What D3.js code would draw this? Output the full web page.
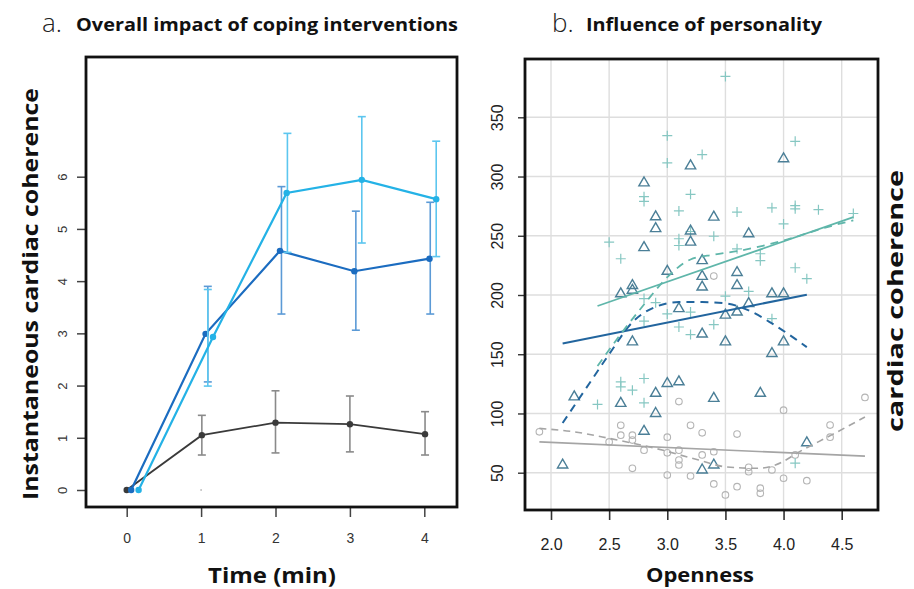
<!DOCTYPE html>
<html>
<head>
<meta charset="utf-8">
<script src="https://cdn.jsdelivr.net/npm/d3@7"></script>
<style>
  body { margin: 0; background: #fff; }
  svg { display: block; }
</style>
</head>
<body>
<svg id="chart" width="914" height="589"></svg>
<script>
// ---- panel a: time course of coherence, 3 groups ----
const timeTicks = [0, 1, 2, 3, 4];
const cohTicks = [0, 1, 2, 3, 4, 5, 6];

const cyanX    = [0.16, 1.16, 2.15, 3.16, 4.16];
const cyanMean = [0, 2.93, 5.69, 5.94, 5.57];
const cyanErrX = [null, 1.09, 2.16, 3.16, 4.16];
const cyanLo   = [null, 1.99, 4.55, 4.73, 4.47];
const cyanHi   = [null, 3.84, 6.83, 7.15, 6.68];

const blueX    = [0.06, 1.06, 2.06, 3.06, 4.07];
const blueMean = [0, 2.99, 4.58, 4.19, 4.43];
const blueErrX = [null, 1.09, 2.08, 3.08, 4.08];
const blueLo   = [null, 2.07, 3.37, 3.06, 3.37];
const blueHi   = [null, 3.90, 5.81, 5.34, 5.51];

const greyX    = [0, 1.01, 2.0, 3.0, 4.01];
const greyMean = [0, 1.05, 1.29, 1.26, 1.07];
const greyErrX = [null, 1.01, 2.0, 3.0, 4.01];
const greyLo   = [null, 0.67, 0.71, 0.73, 0.67];
const greyHi   = [null, 1.43, 1.90, 1.80, 1.50];

// ---- panel b: openness vs coherence ----
const openTicks = [2.0, 2.5, 3.0, 3.5, 4.0, 4.5];
const yTicksB = [50, 100, 150, 200, 250, 300, 350];

const crossX = [3.0, 3.0, 3.3, 3.2, 3.1, 2.8, 2.8, 3.5, 4.1, 3.6, 3.9, 4.1, 4.1, 4.3, 4.6,
  2.5, 2.6, 3.1, 3.1, 3.2, 2.9, 2.8, 3.0, 3.2, 3.1, 3.2, 2.8, 3.4, 4.0, 3.6, 3.8, 3.8,
  4.1, 4.2, 3.7, 3.5, 3.4, 3.9, 2.6, 2.6, 2.7, 2.8, 2.4, 2.8, 4.1];
const crossY = [334.5, 311.5, 318.5, 285, 271, 283, 279, 384.5, 329.7, 270, 273.6, 275.5, 272.7, 272, 268.8,
  244.6, 230.6, 247.5, 241.8, 253.6, 193.5, 197, 184, 185.6, 173, 166.6, 178, 249.6, 260, 239, 234.8, 229,
  223, 213.8, 203, 199, 175, 180, 126.7, 122.5, 119.7, 129.5, 107.6, 109, 58];

const triX = [3.2, 2.8, 2.9, 2.9, 2.8, 3.2, 3.2, 3.4, 3.3, 3.3, 3.3, 3.0, 2.6, 2.7, 2.7, 3.1,
  2.7, 3.3, 4.0, 3.7, 3.6, 3.6, 3.9, 4.0, 3.5, 3.7, 3.6, 3.5, 4.0, 3.9, 2.2, 2.6, 2.9, 2.9,
  3.0, 3.1, 3.4, 3.8, 2.8, 2.1, 3.3, 3.4, 4.2];
const triY = [309, 294.6, 266, 256, 240, 254, 244.6, 265.7, 229, 215.7, 206.7, 220, 201, 208, 204, 188.5,
  160.4, 167, 315, 251.7, 219, 208, 201, 201, 183, 192.7, 185.6, 160.4, 160.4, 150.6, 114, 108.5, 117, 100,
  125.3, 126.7, 112.7, 117, 85, 56.5, 52.3, 56.5, 75.3];

const circX = [1.9, 2.6, 2.6, 2.7, 2.7, 2.5, 2.8, 3.1, 3.2, 3.3, 3.6, 4.0, 4.4, 4.4, 4.7, 3.0,
  3.0, 3.1, 3.1, 3.1, 3.3, 3.4, 2.7, 3.0, 3.2, 3.4, 3.5, 3.6, 3.7, 3.7, 3.8, 3.8, 3.9, 4.0,
  4.2, 4.1, 3.4];
const circY = [84.5, 90, 81.7, 81.7, 77.5, 76, 69, 110, 90, 83.7, 82.6, 102.8, 90.2, 80, 113.5, 80,
  66.8, 69, 60.7, 56.5, 65, 67.7, 53.7, 48, 47.2, 40.5, 31.2, 38.2, 54.5, 50.8, 36.9, 32.6, 52.3, 45.3,
  43.3, 65, 216];

// fitted lines (solid = linear, dashed = loess)
const tealFitX = [2.4, 4.6],  tealFitY = [190.7, 265.7];
const tealLoX = [2.4, 2.6, 2.8, 3.0, 3.2, 3.4, 3.6, 3.8, 4.0, 4.2, 4.4, 4.6];
const tealLoY = [140, 167, 192, 215, 230, 234, 237, 241, 246, 252, 258, 263];
const blueFitX = [2.1, 4.2],  blueFitY = [159, 200.3];
const blueLoX = [2.1, 2.3, 2.5, 2.7, 2.9, 3.1, 3.3, 3.5, 3.7, 3.9, 4.1, 4.2];
const blueLoY = [92, 121, 150, 177, 190, 194, 194, 193, 187, 176, 163, 156];
const greyFitX = [1.9, 4.7],  greyFitY = [76, 64];
const greyLoX = [1.9, 2.2, 2.5, 2.9, 3.27, 3.5, 3.78, 3.93, 4.16, 4.41, 4.7];
const greyLoY = [87.4, 84.5, 79, 70.5, 60.7, 55, 53.7, 56.5, 69, 81.7, 97];

const svg = d3.select('#chart');
const tickFont = "'Liberation Sans', Arial, sans-serif";
const labelFont = "'Open Sans', 'Noto Sans', sans-serif";

function zip(xs, ys) { return xs.map((x, i) => [x, ys[i]]); }

// ================= panel a =================
const xa = d3.scaleLinear().domain([0, 4]).range([126.7, 424.3]);
const ya = d3.scaleLinear().domain([0, 6]).range([490, 176.7]);
const ga = svg.append('g');

// axes
const axA = ga.append('g').attr('transform', 'translate(0,508)')
  .call(d3.axisBottom(xa).tickValues(timeTicks).tickSize(9).tickPadding(16).tickFormat(d3.format('d')));
axA.select('.domain').remove();
axA.selectAll('line').attr('stroke', '#444').attr('stroke-width', 1.5);
axA.selectAll('text').attr('font-family', tickFont).attr('font-size', 14).attr('fill', '#333');

const ayA = ga.append('g').attr('transform', 'translate(86,0)')
  .call(d3.axisLeft(ya).tickValues(cohTicks).tickSize(9).tickFormat(d3.format('d')));
ayA.select('.domain').remove();
ayA.selectAll('line').attr('stroke', '#444').attr('stroke-width', 1.5);
ayA.selectAll('text')
  .attr('font-family', tickFont).attr('font-size', 13).attr('fill', '#333')
  .attr('x', 0).attr('dy', 0).attr('text-anchor', 'middle')
  .attr('transform', 'translate(-19,0) rotate(-90)');

function drawSeries(xs, ms, ex, lo, hi, lineCol, barCol, lw) {
  const bars = ga.append('g').attr('stroke', barCol).attr('stroke-width', 1.6).attr('fill', 'none');
  ex.forEach((x, i) => {
    if (x === null) return;
    const px = xa(x);
    bars.append('line').attr('x1', px).attr('x2', px).attr('y1', ya(lo[i])).attr('y2', ya(hi[i]));
    bars.append('line').attr('x1', px - 4).attr('x2', px + 4).attr('y1', ya(lo[i])).attr('y2', ya(lo[i]));
    bars.append('line').attr('x1', px - 4).attr('x2', px + 4).attr('y1', ya(hi[i])).attr('y2', ya(hi[i]));
  });
  ga.append('path')
    .attr('d', d3.line().x(d => xa(d[0])).y(d => ya(d[1]))(zip(xs, ms)))
    .attr('fill', 'none').attr('stroke', lineCol).attr('stroke-width', lw);
  ga.append('g').selectAll('circle').data(zip(xs, ms)).join('circle')
    .attr('cx', d => xa(d[0])).attr('cy', d => ya(d[1])).attr('r', 3.2).attr('fill', lineCol);
}

drawSeries(greyX, greyMean, greyErrX, greyLo, greyHi, '#3a3a3a', '#8a8a8a', 1.8);
drawSeries(blueX, blueMean, blueErrX, blueLo, blueHi, '#1b6cc0', '#5b9ad6', 2.2);
drawSeries(cyanX, cyanMean, cyanErrX, cyanLo, cyanHi, '#24b2e6', '#5cc6ef', 2.2);

// stray dot at t=1, 0
ga.append('circle').attr('cx', xa(1)).attr('cy', ya(0)).attr('r', 0.9).attr('fill', '#bbb');

ga.append('rect').attr('x', 86).attr('y', 57).attr('width', 371).attr('height', 450)
  .attr('fill', 'none').attr('stroke', '#111').attr('stroke-width', 2.8);

// labels
ga.append('text').attr('x', 42).attr('y', 32).attr('font-family', labelFont)
  .attr('font-size', 26).attr('font-weight', 300).attr('fill', '#222').text('a.');
ga.append('text').attr('x', 76).attr('y', 31).attr('font-family', labelFont)
  .attr('font-size', 17).attr('font-weight', 700).attr('fill', '#111')
  .attr('textLength', 382).attr('lengthAdjust', 'spacingAndGlyphs')
  .text('Overall impact of coping interventions');
ga.append('text').attr('transform', 'translate(38,294) rotate(-90)').attr('text-anchor', 'middle')
  .attr('font-family', labelFont).attr('font-size', 21).attr('font-weight', 700).attr('fill', '#111')
  .attr('textLength', 412).attr('lengthAdjust', 'spacingAndGlyphs')
  .text('Instantaneous cardiac coherence');
ga.append('text').attr('x', 272).attr('y', 583).attr('text-anchor', 'middle')
  .attr('font-family', labelFont).attr('font-size', 21).attr('font-weight', 700).attr('fill', '#111')
  .attr('textLength', 128).attr('lengthAdjust', 'spacingAndGlyphs')
  .text('Time (min)');

// ================= panel b =================
const xb = d3.scaleLinear().domain([2.0, 4.5]).range([551, 841.7]);
const yb = d3.scaleLinear().domain([50, 350]).range([472.7, 117.3]);
const gb = svg.append('g');
const L = 525, R = 878, T = 59, B = 510;

// grid
gb.append('g').selectAll('line').data(openTicks).join('line')
  .attr('x1', d => xb(d)).attr('x2', d => xb(d)).attr('y1', T).attr('y2', B)
  .attr('stroke', '#dedede').attr('stroke-width', 1.4);
gb.append('g').selectAll('line').data(yTicksB).join('line')
  .attr('x1', L).attr('x2', R).attr('y1', d => yb(d)).attr('y2', d => yb(d))
  .attr('stroke', '#dedede').attr('stroke-width', 1.4);

const axB = gb.append('g').attr('transform', `translate(0,${B + 1})`)
  .call(d3.axisBottom(xb).tickValues(openTicks).tickSize(9).tickPadding(19).tickFormat(d3.format('.1f')));
axB.select('.domain').remove();
axB.selectAll('line').attr('stroke', '#333').attr('stroke-width', 1.6);
axB.selectAll('text').attr('font-family', tickFont).attr('font-size', 16).attr('fill', '#222');

const ayB = gb.append('g').attr('transform', `translate(${L},0)`)
  .call(d3.axisLeft(yb).tickValues(yTicksB).tickSize(7).tickFormat(d3.format('d')));
ayB.select('.domain').remove();
ayB.selectAll('line').attr('stroke', '#333').attr('stroke-width', 1.4);
ayB.selectAll('text')
  .attr('font-family', tickFont).attr('font-size', 16).attr('fill', '#222')
  .attr('x', 0).attr('dy', 0).attr('text-anchor', 'middle')
  .attr('transform', 'translate(-22,0) rotate(-90)');

const plot = gb.append('g');

// circles
plot.append('g').selectAll('circle').data(zip(circX, circY)).join('circle')
  .attr('cx', d => xb(d[0])).attr('cy', d => yb(d[1])).attr('r', 3.3)
  .attr('fill', 'none').attr('stroke', '#b4b4b4').attr('stroke-width', 1.1);

// crosses
plot.append('g').selectAll('path').data(zip(crossX, crossY)).join('path')
  .attr('d', d => {
    const x = xb(d[0]), y = yb(d[1]);
    return `M${x - 5},${y}h10M${x},${y - 5}v10`;
  })
  .attr('stroke', '#86c7c2').attr('stroke-width', 1.2).attr('fill', 'none');

// triangles
const tri = d3.symbol().type(d3.symbolTriangle).size(46);
plot.append('g').selectAll('path').data(zip(triX, triY)).join('path')
  .attr('transform', d => `translate(${xb(d[0])},${yb(d[1])})`)
  .attr('d', tri)
  .attr('fill', 'none').attr('stroke', '#4b7f97').attr('stroke-width', 1.4);

const lineB = d3.line().x(d => xb(d[0])).y(d => yb(d[1]));
const lineBc = d3.line().x(d => xb(d[0])).y(d => yb(d[1])).curve(d3.curveMonotoneX);
function fit(xs, ys, col, w, dash, curved) {
  plot.append('path').attr('d', (curved ? lineBc : lineB)(zip(xs, ys)))
    .attr('fill', 'none').attr('stroke', col).attr('stroke-width', w)
    .attr('stroke-dasharray', dash || null);
}
fit(greyFitX, greyFitY, '#a5a5a5', 1.6);
fit(greyLoX, greyLoY, '#a5a5a5', 1.6, '7,5', true);
fit(blueFitX, blueFitY, '#22659e', 2);
fit(blueLoX, blueLoY, '#22659e', 2, '8,6', true);
fit(tealFitX, tealFitY, '#5fb6aa', 1.8);
fit(tealLoX, tealLoY, '#5fb6aa', 1.8, '8,6', true);

gb.append('rect').attr('x', L).attr('y', T).attr('width', R - L).attr('height', B - T)
  .attr('fill', 'none').attr('stroke', '#111').attr('stroke-width', 2.8);

gb.append('text').attr('x', 552).attr('y', 32).attr('font-family', labelFont)
  .attr('font-size', 26).attr('font-weight', 300).attr('fill', '#222').text('b.');
gb.append('text').attr('x', 586).attr('y', 31).attr('font-family', labelFont)
  .attr('font-size', 17).attr('font-weight', 700).attr('fill', '#111')
  .attr('textLength', 236).attr('lengthAdjust', 'spacingAndGlyphs')
  .text('Influence of personality');
gb.append('text').attr('x', 700).attr('y', 582).attr('text-anchor', 'middle')
  .attr('font-family', labelFont).attr('font-size', 20).attr('font-weight', 700).attr('fill', '#111')
  .attr('textLength', 108).attr('lengthAdjust', 'spacingAndGlyphs')
  .text('Openness');
gb.append('text').attr('transform', 'translate(903,301) rotate(-90)').attr('text-anchor', 'middle')
  .attr('font-family', labelFont).attr('font-size', 22).attr('font-weight', 700).attr('fill', '#111')
  .attr('textLength', 262).attr('lengthAdjust', 'spacingAndGlyphs')
  .text('cardiac coherence');
</script>
</body>
</html>
